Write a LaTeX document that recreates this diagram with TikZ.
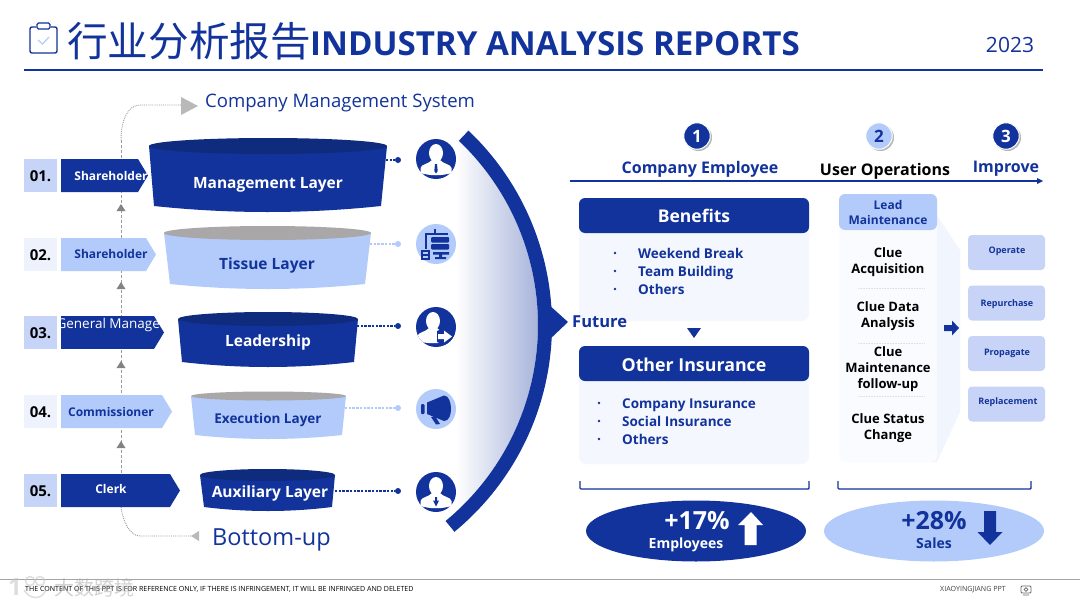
\documentclass[tikz,border=0pt]{standalone}
\usepackage{fontspec}
\setmainfont{Open Sans}
\newfontfamily\cjk{Noto Sans CJK SC}
\usetikzlibrary{calc,shapes.geometric}
\definecolor{navy}{HTML}{12339B}
\definecolor{navyd}{HTML}{0F2B7D}
\definecolor{sky}{HTML}{B3CBFB}
\definecolor{numa}{HTML}{C6D4F8}
\definecolor{numb}{HTML}{EEF2FD}
\definecolor{pane}{HTML}{F5F7FE}
\definecolor{tint}{HTML}{C8D4F7}
\definecolor{stone}{HTML}{A9A7A8}
\definecolor{guide}{HTML}{9A9A9A}
\newcommand\fs[1]{\fontsize{#1}{#1}\selectfont}
\tikzset{
  x=1pt,y=-1pt,
  lbl/.style={inner sep=0,align=center,yshift=-1.5pt,font=\bfseries\fs{#1}},
  lbl/.default=13,
  rowtext/.style={text height=10pt,text depth=3pt},
  numbox/.style={minimum width=33,minimum height=33,inner sep=0,font=\bfseries\fs{15},text=black,text height=11pt,text depth=0pt},
  guideline/.style={guide,densely dashed,line width=.9},
  dotline/.style={dash pattern=on 2.4pt off 1.3pt,line width=1.2},
  smalltip/.style={fill=guide!85!black},
  tinybox/.style={fill=tint,rounded corners=4,minimum width=77,minimum height=35,inner sep=0},
}
\newcommand\funnel[9]{%
  \fill[\fa] (#2,#6) -- (#4,#8) .. controls ({#4+(#5-#4)/3},{#8+(#9-#8)*4/3}) and ({#5-(#5-#4)/3},{#8+(#9-#8)*4/3}) .. (#5,#8) -- (#3,#6) -- cycle;
  \fill[\fb] ({(#2+#3)/2},#6) ellipse [x radius={(#3-#2)/2},y radius=#7];
  \coordinate (#1) at ({(#2+#3)/2},#6);
}
\newcommand\chevron[6]{%
  \fill[#4] (61,#2) -- (#3,#2) -- ({#3+10},{#2+16.5}) -- (#3,{#2+33}) -- (61,{#2+33}) -- cycle;
}
\newcommand\headshape[1]{%
  \fill[#1] (0,-6) ellipse [x radius=7,y radius=9];
  \fill[#1] (-15.5,14) -- (-15.5,9) .. controls (-15,5) and (-7,5) .. (-4,1) -- (4,1) .. controls (7,5) and (15,5) .. (15.5,9) -- (15.5,14) .. controls (5,17) and (-5,17) .. (-15.5,14) -- cycle;
}
\begin{document}
\begin{tikzpicture}
\useasboundingbox (0,0) rectangle (1080,608);
\fill[white] (0,0) rectangle (1080,608);

% ---------- header
\draw[navy,line width=1.4,rounded corners=2] (30,27) rectangle (57,53);
\fill[white] (36,24) rectangle (51,30);
\draw[navy,line width=1.3,rounded corners=1.5] (37,23) rectangle (50,29);
\draw[sky,line width=1.2] (38,40) -- (42.5,44) -- (49,37);
\node[inner sep=0,anchor=west,text=navy] (titlezh) at (67,41) {\cjk\fs{40.6}行业分析报告};
\node[inner sep=0,anchor=west,text=navy,font=\bfseries\fs{33.1}] (titleen) at (310,44) {INDUSTRY ANALYSIS REPORTS};
\node[inner sep=0,text=navy,font=\fs{21}] (year) at (1010,45) {2023};
\draw[navy,line width=2] (24,70) -- (1043,70);

% ---------- guide on the left
\coordinate (gtop) at (181,105);
\coordinate (gbot) at (191,536);
\draw[guideline,densely dotted] (gtop) -- (140,105) .. controls (128,105) and (121,120) .. (121,140);
\draw[guideline] (121,140) -- (121,474);
\draw[guideline,densely dotted] (121,507) .. controls (123,522) and (130,536) .. (140,536) -- (gbot);
\fill[stone!80!white] (181,97) -- (198,106) -- (181,115) -- cycle;
\fill[stone!80!white] (199,531) -- (191,536) -- (199,541) -- cycle;
\foreach \yy in {211,289,368,448}{\fill[smalltip] (121,{\yy-7}) -- (125.5,\yy) -- (116.5,\yy) -- cycle;}
\node[inner sep=0,anchor=west,text=navy,font=\fs{18.55}] (cms) at (205,103.5) {Company Management System};
\node[inner sep=0,anchor=west,text=navy,font=\fs{23.5}] (bup) at (212,540) {Bottom-up};

% ---------- number boxes and chevrons
\node[numbox,fill=numa] (n1) at (40.5,175.5) {01.};
\node[numbox,fill=numb] (n2) at (40.5,254.5) {02.};
\node[numbox,fill=numa] (n3) at (40.5,332.5) {03.};
\node[numbox,fill=numb] (n4) at (40.5,411.5) {04.};
\node[numbox,fill=numa] (n5) at (40.5,490.5) {05.};
\chevron{c1}{159}{138}{navy}{}{}
\chevron{c2}{238}{146}{sky}{}{}
\begin{scope}
\clip (61,316) -- (154,316) -- (164,332.5) -- (154,349) -- (61,349) -- cycle;
\fill[navy] (61,316) rectangle (170,349);
\node[inner sep=0,text=white,font=\fs{13.5}] (t3) at (111,325) {General Manager};
\end{scope}
\chevron{c4}{395}{162}{sky}{}{}
\chevron{c5}{474}{170}{navy}{}{}
\node[lbl=12,text=white] (t1) at (111,174) {Shareholder};
\node[lbl=12,text=navy] (t2) at (111,252) {Shareholder};
\node[lbl=12,text=navy] (t4) at (111,410) {Commissioner};
\node[lbl=12,text=white] (t5) at (111,487) {Clerk};

% ---------- funnels
\def\fa{navy}\def\fb{navyd}
\funnel{f1}{149}{387}{154}{381}{146}{8}{206}{212}
\def\fa{sky}\def\fb{stone}
\funnel{f2}{164}{371}{170}{365}{233}{7}{284}{289}
\def\fa{navy}\def\fb{navyd}
\funnel{f3}{178}{358}{182}{354}{319}{7}{362}{367}
\def\fa{sky}\def\fb{stone}
\funnel{f4}{191}{346}{195}{342}{396}{4.5}{435}{439}
\def\fa{navy}\def\fb{navyd}
\funnel{f5}{200}{335}{204}{332}{475}{6}{507}{511}
\node[lbl=15.5,text=white] (l1) at (268,183) {Management Layer};
\node[lbl=15.5,text=navy] (l2) at (267,264) {Tissue Layer};
\node[lbl=15.5,text=white] (l3) at (268,341) {Leadership};
\node[lbl=13.5,text=navy] (l4) at (268,418.5) {Execution Layer};
\node[lbl=15.5,text=white] (l5) at (270,492) {Auxiliary Layer};

% ---------- dotted leaders
\foreach \nm/\ya/\xa/\cc in {1/160/386/navy,2/244/370/sky,3/326/357/navy,4/408/345/sky,5/491/335/navy}{
  \coordinate (da\nm) at (\xa,\ya);
  \node[circle,fill=\cc,minimum size=6,inner sep=0] (db\nm) at (398,\ya) {};
  \draw[dotline,\cc] (da\nm) -- (db\nm);
}

% ---------- icon discs
\node[circle,fill=navy,minimum size=40,inner sep=0] (i1) at (436,159) {};
\node[circle,fill=sky,minimum size=40,inner sep=0] (i2) at (436,244) {};
\node[circle,fill=navy,minimum size=40,inner sep=0] (i3) at (436,327) {};
\node[circle,fill=sky,minimum size=40,inner sep=0] (i4) at (436,409) {};
\node[circle,fill=navy,minimum size=40,inner sep=0] (i5) at (436,492) {};
\begin{scope}[shift={(436,159)}]
  \headshape{white}
  \fill[navy] (-1,5) -- (1,5) -- (1.7,12) -- (0,14.5) -- (-1.7,12) -- cycle;
\end{scope}
\begin{scope}[shift={(436,327)}]
  \clip (0,0) circle [radius=20];
  \begin{scope}[shift={(-3,0)}]\headshape{white}\end{scope}
  \fill[navy] (1,4) -- (8,1) -- (20,8) -- (20,12) -- (9,18) -- (1,15) -- cycle;
  \fill[white] (2,7) -- (8,7) -- (8,3.5) -- (16,9.5) -- (8,15.5) -- (8,12) -- (2,12) -- cycle;
\end{scope}
\begin{scope}[shift={(436,492)}]
  \headshape{white}
  \fill[navy] (-1,5) -- (1,5) -- (1,8.5) -- (3,8.5) -- (0,14.5) -- (-3,8.5) -- (-1,8.5) -- cycle;
\end{scope}
\begin{scope}[shift={(436,244)}]
  \draw[navy,line width=1.8] (-10,5) -- (-10,-10) -- (12,-10) (-1,-15) -- (-1,-10);
  \fill[navy,rounded corners=1] (-5,-7) rectangle (13,-1.5);
  \fill[navy,rounded corners=1] (-5,0) rectangle (13,5.5);
  \fill[navy] (-3,8) rectangle (13,10.5) (3,10) rectangle (6,13) (-1,13) rectangle (10,15);
  \draw[navy,line width=1.2] (-14,7) rectangle (-7,15) (-14,11) -- (-7,11);
\end{scope}
\begin{scope}[shift={(436,409)}]
  \fill[navy,rounded corners=1] (-15,-5) rectangle (-11.5,5);
  \fill[navy] (-9,-6.5) -- (8,-13.5) .. controls (13,-13.5) and (15,-6) .. (15,0) .. controls (15,6) and (13,12) .. (8,12) -- (-9,5) -- cycle;
  \fill[navy] (-5,8) -- (-1,7) -- (4,15) -- (0,15.5) -- cycle;
\end{scope}

% ---------- crescent
\begin{scope}
  \clip ({284+254*cos(-46.5)},{325+254*sin(-46.5)}) arc[start angle=-46.5,end angle=50.5,radius=254] -- cycle;
  \shade[left color=white,right color=navy!38!white] (456,125) rectangle (540,540);
\end{scope}
\fill[navy] ({284+268*cos(-46.5)},{325+268*sin(-46.5)}) arc[start angle=-46.5,end angle=50.5,radius=268]
  -- ({284+254*cos(50.5)},{325+254*sin(50.5)}) arc[start angle=50.5,end angle=-46.5,radius=254] -- cycle;
\fill[navy] (548,304) -- (568,322) -- (548,341) -- cycle;

% ---------- steps header
\foreach \nm/\xx/\cc/\tc/\lab in {s1/697/navy/white/1,s2/879/sky/navy/2,s3/1006/navy/white/3}{
  \fill[guide!70!white] (\xx+1.5,137.5) circle [radius=13.5];
  \node[circle,draw=white,line width=1,fill=\cc,minimum size=26.5,inner sep=0,text=\tc,font=\bfseries\fs{17}] (\nm) at (\xx,136) {\lab};
}
\node[lbl=16,text=navy] (h1) at (700,167.5) {Company Employee};
\node[lbl=16,text=black] (h2) at (885,169.5) {User Operations};
\node[lbl=16,text=navy] (h3) at (1006,167.5) {Improve};
\coordinate (axa) at (570,181);
\coordinate (axb) at (1037,181);
\draw[navy,line width=1.4] (axa) -- (axb);
\fill[navy] (1037,178) -- (1043,181) -- (1037,184) -- cycle;

% ---------- left panel
\fill[pane,rounded corners=7] (579,225) rectangle (809,321);
\fill[navy,rounded corners=6] (579,198) rectangle (809,233);
\node[lbl=17.5,text=white] (b1) at (694,214) {Benefits};
\foreach \yy/\tx in {253/Weekend Break,271/Team Building,289/Others}{
  \fill[navy] (615,\yy) circle [radius=1.4];
  \node[lbl=13.5,rowtext,anchor=west,text=navy] at (638,\yy) {\tx};
}
\fill[navy] (687,328) -- (701,328) -- (694,338) -- cycle;
\fill[pane,rounded corners=7] (579,370) rectangle (809,464);
\fill[navy,rounded corners=6] (579,346) rectangle (809,381);
\node[lbl=17.8,text=white] (b2) at (694,363) {Other Insurance};
\foreach \yy/\tx in {403/Company Insurance,421/Social Insurance,439/Others}{
  \fill[navy] (599,\yy) circle [radius=1.4];
  \node[lbl=13.5,rowtext,anchor=west,text=navy] at (622,\yy) {\tx};
}
\node[lbl=16.5,text=navy,anchor=west] (fut) at (572,320.5) {Future};

% ---------- middle column
\fill[numb!50!pane] (930,205) -- (960,250) -- (960,412) -- (937,462) -- (930,462) -- cycle;
\fill[white!55!pane,rounded corners=6] (839,215) rectangle (937,462);
\fill[sky,rounded corners=6] (839,194) rectangle (937,230);
\node[lbl=12,text=navy] (m0) at (888,211) {Lead\\[3pt]Maintenance};
\node[lbl=13,text=black] (m1) at (888,260.5) {Clue\\[3pt]Acquisition};
\node[lbl=13,text=black] (m2) at (888,314.5) {Clue Data\\[3pt]Analysis};
\node[lbl=13,text=black] (m3) at (888,367.5) {Clue\\[3pt]Maintenance\\[3pt]follow-up};
\node[lbl=13,text=black] (m4) at (888,426.5) {Clue Status\\[3pt]Change};
\foreach \yy in {288,343,396}{\draw[black!12,densely dotted,line width=.6] (858,\yy) -- (925,\yy);}
\fill[navy] (944,325) -- (952,325) -- (952,320.5) -- (959,328) -- (952,335.5) -- (952,331) -- (944,331) -- cycle;

% ---------- right boxes
\node[tinybox] (r1) at (1006.5,252.5) {};
\node[tinybox] (r2) at (1006.5,303) {};
\node[tinybox] (r3) at (1006.5,353.5) {};
\node[tinybox] (r4) at (1006.5,404) {};
\node[lbl=9,text=navy] at (1007,250) {Operate};
\node[lbl=9,text=navy] at (1007,302.5) {Repurchase};
\node[lbl=9,text=navy] at (1007,351.5) {Propagate};
\node[lbl=9,text=navy] at (1008,400.5) {Replacement};

% ---------- brackets
\draw[navy,line width=1.4,rounded corners=1] (580,481) -- (580,489) -- (809,489) -- (809,481);
\draw[navy,line width=1.4,rounded corners=1] (838,481) -- (838,489) -- (1031,489) -- (1031,481);

% ---------- ellipses
\node[ellipse,fill=navy,minimum width=220,minimum height=61,inner sep=0] (e1) at (696,531) {};
\node[ellipse,fill=sky,minimum width=220,minimum height=61,inner sep=0] (e2) at (934,531) {};
\node[lbl=25,text=white] at (697,519) {+17\%};
\node[lbl=14,text=white] at (686,543) {Employees};
\fill[white] (751,512) -- (763,525) -- (756.5,525) -- (756.5,545) -- (744.5,545) -- (744.5,525) -- (738,525) -- cycle;
\node[lbl=25,text=navy] at (934,519) {+28\%};
\node[lbl=14,text=navy] at (934,542) {Sales};
\fill[navy] (984,511) -- (996,511) -- (996,532) -- (1002.5,532) -- (990,545) -- (977.5,532) -- (984,532) -- cycle;

% ---------- footer
\draw[black!35,line width=1] (0,579.5) -- (1080,579.5);
\node[inner sep=0,anchor=west,text=black,font=\fs{7.06}] (foot) at (25,589.5) {THE CONTENT OF THIS PPT IS FOR REFERENCE ONLY, IF THERE IS INFRINGEMENT, IT WILL BE INFRINGED AND DELETED};
\node[inner sep=0,anchor=west,text=black!75,font=\fs{7.1}] (brand) at (940,589.5) {XIAOYINGJIANG PPT};
\draw[black!60,line width=.8,rounded corners=1] (1021,586) rectangle (1031,593);
\draw[black!60,line width=.7] (1026,589.5) circle [radius=1.8] (1023,595) -- (1029,595);
% watermark
\begin{scope}[opacity=.5]
\node[inner sep=0,anchor=west,text=black!25,font=\bfseries\fs{24}] (wm1) at (8,587) {1};
\draw[black!25,line width=1.5] (30,581) circle [radius=4.5] (40,581) circle [radius=4.5];
\draw[black!25,line width=1.5] (24,590) .. controls (30,600) and (42,600) .. (46,590);
\node[inner sep=0,anchor=west,text=black!35] (wm2) at (54,588) {\cjk\fs{20}大数跨境};
\end{scope}
\end{tikzpicture}
\end{document}
